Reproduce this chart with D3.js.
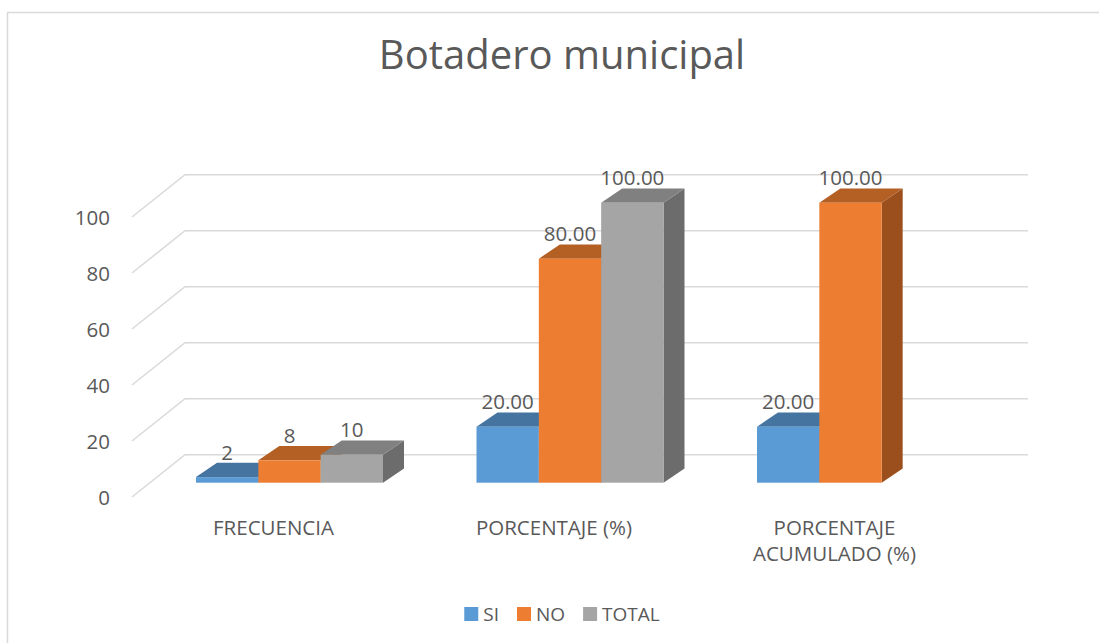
<!DOCTYPE html>
<html>
<head>
<meta charset="utf-8">
<script src="https://cdn.jsdelivr.net/npm/d3@7"></script>
<style>
  body { margin: 0; background: #fff; }
  text { font-family: "Open Sans", sans-serif; fill: #595959; }
</style>
</head>
<body>
<div id="chart"></div>
<script>
// data
var categories = ["FRECUENCIA", "PORCENTAJE (%)", "PORCENTAJE ACUMULADO (%)"];
var seriesNames = ["SI", "NO", "TOTAL"];
var siValues = [2, 20, 20];
var noValues = [8, 80, 100];
var totalValues = [10, 100, null];
var labelFormats = ["d", ".2f", ".2f"];
var yTicks = [0, 20, 40, 60, 80, 100];

var svgWidth = 1099;
var svgHeight = 643;

var colors = {
    SI: { front: "#5b9bd5", top: "#44749f", side: "#3d6a93" },
    NO: { front: "#ed7d31", top: "#b45f24", side: "#9a4f1c" },
    TOTAL: { front: "#a5a5a5", top: "#808080", side: "#6c6c6c" }
};

// 3d offsets
var barDepth = { dx: 21, dy: 14.3 };
var wallBack = { x0: 185, x1: 1028, dy: -28 };
var wallFront = { x: 132, dy: 14.3 };

var svg = d3.select("#chart")
    .append("svg")
    .attr("width", svgWidth)
    .attr("height", svgHeight);

// chart border
svg.append("rect")
    .attr("x", 7.5)
    .attr("y", 12.5)
    .attr("width", 1100)
    .attr("height", 640)
    .attr("fill", "none")
    .attr("stroke", "#d9d9d9")
    .attr("stroke-width", 1.5);

// title
svg.append("text")
    .attr("x", 562)
    .attr("y", 69)
    .attr("text-anchor", "middle")
    .attr("font-size", "40px")
    .text("Botadero municipal");

// scales (front face of bars)
var yScale = d3.scaleLinear()
    .domain([0, 100])
    .range([482.7, 202.7]);

var xScale = d3.scaleBand()
    .domain(categories)
    .range([149.25, 990.75])
    .paddingInner(1 / 3)
    .paddingOuter(1 / 6);

var xSeries = d3.scaleBand()
    .domain(seriesNames)
    .range([0, xScale.bandwidth()]);

// gridlines
var grid = svg.append("g");
yTicks.forEach(function(t) {
    var yb = yScale(t) + wallBack.dy;
    var yf = yScale(t) + wallFront.dy;
    grid.append("polyline")
        .attr("points", [[wallFront.x, yf], [wallBack.x0, yb], [wallBack.x1, yb]].map(p => p.join(",")).join(" "))
        .attr("fill", "none")
        .attr("stroke", "#d9d9d9")
        .attr("stroke-width", 1.5);
});

// y axis labels at front edge
var yFront = d3.scaleLinear()
    .domain([0, 100])
    .range([yScale(0) + wallFront.dy, yScale(100) + wallFront.dy]);

var leftAxis = d3.axisLeft(yFront)
    .tickValues(yTicks)
    .tickSize(0)
    .tickPadding(0);

var yAxis = svg.append("g")
    .attr("transform", "translate(110, 0)")
    .call(leftAxis);
yAxis.select(".domain").remove();
yAxis.selectAll("text")
    .attr("font-size", "20.5px")
    .attr("font-family", "Open Sans, sans-serif")
    .attr("fill", "#595959")
    .attr("dy", "0.35em");

// bars
var rows = [];
categories.forEach(function(c, i) {
    [siValues[i], noValues[i], totalValues[i]].forEach(function(v, j) {
        if (v === null) return;
        rows.push({ cat: c, series: seriesNames[j], value: v, fmt: labelFormats[i] });
    });
});

var barsGroup = svg.append("g");
rows.forEach(function(d) {
    var xl = xScale(d.cat) + xSeries(d.series);
    var xr = xl + xSeries.bandwidth();
    var y0 = yScale(0);
    var yt = yScale(d.value);
    var dx = barDepth.dx, dy = barDepth.dy;
    var col = colors[d.series];
    var g = barsGroup.append("g");
    g.append("polygon")
        .attr("points", [[xr, yt], [xr + dx, yt - dy], [xr + dx, y0 - dy], [xr, y0]].map(p => p.join(",")).join(" "))
        .attr("fill", col.side);
    g.append("polygon")
        .attr("points", [[xl, yt], [xl + dx, yt - dy], [xr + dx, yt - dy], [xr, yt]].map(p => p.join(",")).join(" "))
        .attr("fill", col.top);
    g.append("rect")
        .attr("x", xl)
        .attr("y", yt)
        .attr("width", xr - xl)
        .attr("height", y0 - yt)
        .attr("fill", col.front);
});

// data labels
svg.append("g")
    .selectAll("text")
    .data(rows)
    .enter()
    .append("text")
    .attr("x", d => xScale(d.cat) + xSeries(d.series) + xSeries.bandwidth() / 2)
    .attr("y", d => yScale(d.value) - barDepth.dy - 3)
    .attr("text-anchor", "middle")
    .attr("font-size", "20.5px")
    .attr("fill", "#404040")
    .text(d => d3.format(d.fmt)(d.value));

// category labels (wrapped)
var catLabels = svg.append("g")
    .selectAll("text")
    .data(categories)
    .enter()
    .append("text")
    .attr("x", d => xScale(d) + xScale.bandwidth() / 2 - 16)
    .attr("y", 535)
    .attr("text-anchor", "middle")
    .attr("font-size", "20.5px");

catLabels.each(function(d) {
    var el = d3.select(this);
    var words = d.split(" ");
    var lines = [];
    var line = [];
    words.forEach(function(w) {
        line.push(w);
        el.text(line.join(" "));
        if (el.node().getComputedTextLength() > 190 && line.length > 1) {
            line.pop();
            lines.push(line.join(" "));
            line = [w];
        }
    });
    lines.push(line.join(" "));
    el.text(null);
    lines.forEach(function(l, k) {
        el.append("tspan")
            .attr("x", el.attr("x"))
            .attr("dy", k === 0 ? 0 : 26)
            .text(l);
    });
});

// legend
var legend = svg.append("g");
var lx = 0;
seriesNames.forEach(function(s) {
    var item = legend.append("g").attr("transform", `translate(${lx}, 0)`);
    item.append("rect")
        .attr("x", 0)
        .attr("y", 607)
        .attr("width", 14)
        .attr("height", 14)
        .attr("fill", colors[s].front);
    var t = item.append("text")
        .attr("x", 19)
        .attr("y", 620.5)
        .attr("font-size", "19px")
        .text(s);
    lx += 19 + t.node().getComputedTextLength() + 18;
});
var legendW = lx - 18;
legend.attr("transform", `translate(${562 - legendW / 2}, 0)`);
</script>
</body>
</html>
